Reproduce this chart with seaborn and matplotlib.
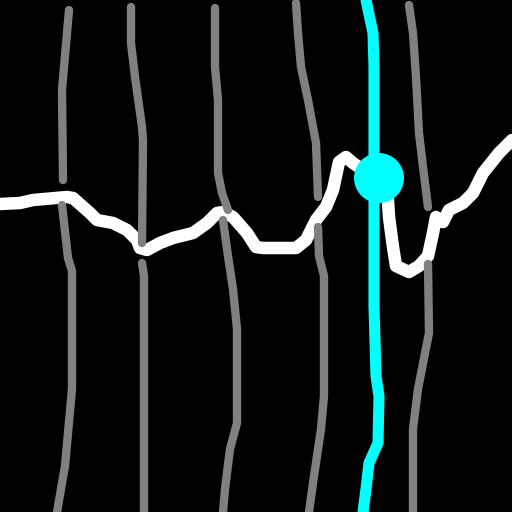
import matplotlib
matplotlib.use("Agg")
import matplotlib.pyplot as plt
import seaborn as sns
import pandas as pd

# ---- data (x, y pairs; y grows downward) ----
white_x = [0, 20, 33, 67, 73, 90, 97, 113, 127, 137, 140, 147, 160, 173, 193, 207, 217, 223, 233, 247, 256, 263, 296, 306, 316, 326, 333, 339, 346, 353, 363, 379, 388, 389, 393, 396, 409, 419, 428, 433, 436, 443, 449, 463, 473, 483, 499, 512]
white_y = [204, 203, 200, 197, 198, 213, 220, 223, 230, 240, 248, 250, 243, 238, 233, 223, 213, 212, 217, 233, 247, 248, 248, 240, 220, 207, 190, 162, 157, 163, 170, 182, 200, 217, 247, 266, 272, 266, 256, 233, 217, 222, 210, 203, 193, 173, 153, 140]

gray_segments = {
    "g1a": ([69, 67, 62, 63], [10, 33, 90, 180]),
    "g1b": ([62, 68, 72, 72, 65, 57], [205, 258, 271, 389, 466, 512]),
    "g2a": ([131, 131, 135, 142, 143, 142], [7, 43, 77, 127, 140, 243]),
    "g2b": ([142, 144, 144], [263, 276, 512]),
    "g3a": ([215, 215, 218, 218, 222, 228], [8, 67, 100, 173, 193, 210]),
    "g3b": ([223, 228, 233, 237, 237, 230, 225, 223], [220, 256, 289, 329, 423, 449, 489, 512]),
    "g4a": ([296, 298, 301, 308, 316, 318], [3, 33, 67, 100, 143, 197]),
    "g4b": ([318, 319, 324, 324, 321, 313, 309], [227, 256, 276, 396, 429, 483, 512]),
    "g5a": ([409, 413, 416, 419, 423, 428], [5, 33, 77, 133, 167, 207]),
    "g5b": ([428, 429, 418, 413, 413], [264, 333, 389, 429, 512]),
}

cyan_x = [366, 373, 374, 374, 374, 376, 379, 378, 369, 366, 363]
cyan_y = [0, 33, 67, 256, 306, 376, 396, 443, 463, 489, 512]

dot_x = [379]
dot_y = [178]

# ---- figure ----
sns.set_theme(style="dark")
fig = plt.figure(figsize=(5.12, 5.12), dpi=100, facecolor="black")
ax = fig.add_axes([0, 0, 1, 1])
ax.set_facecolor("black")

sns.lineplot(x=white_x, y=white_y, sort=False, estimator=None, color="white",
             linewidth=9, ax=ax, zorder=2, solid_capstyle="round", solid_joinstyle="round")

for name, (gx, gy) in gray_segments.items():
    sns.lineplot(x=gx, y=gy, sort=False, estimator=None, color="#808080",
                 linewidth=6, ax=ax, zorder=3, solid_capstyle="round", solid_joinstyle="round")

sns.lineplot(x=cyan_x, y=cyan_y, sort=False, estimator=None, color="#00FFFF",
             linewidth=8, ax=ax, zorder=4, solid_capstyle="round", solid_joinstyle="round")

sns.scatterplot(x=dot_x, y=dot_y, color="#00FFFF", s=36**2, ax=ax, zorder=5,
                edgecolor="none")

ax.set_xlim(0, 512)
ax.set_ylim(512, 0)
ax.set_axis_off()
if ax.get_legend():
    ax.get_legend().remove()

fig.savefig("out.png", dpi=100, facecolor="black")
